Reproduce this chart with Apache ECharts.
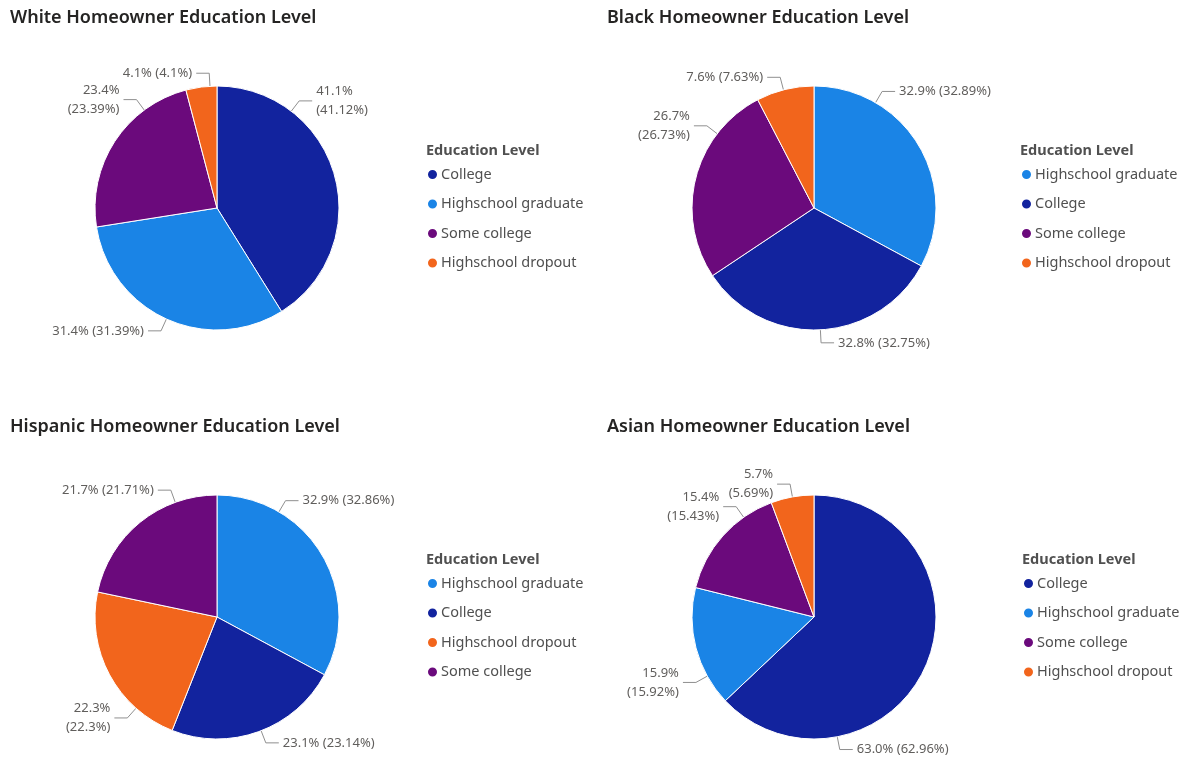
<!DOCTYPE html>
<html>
<head>
<meta charset="utf-8">
<script src="https://cdn.jsdelivr.net/npm/echarts@6/dist/echarts.min.js"></script>
<style>
  html, body { margin: 0; padding: 0; background: #ffffff; }
  #chart { width: 1186px; height: 761px; }
</style>
</head>
<body>
<div id="chart"></div>
<script>
// ---- Data ----
const chartTitles = [
  'White Homeowner Education Level',
  'Black Homeowner Education Level',
  'Hispanic Homeowner Education Level',
  'Asian Homeowner Education Level'
];
const legendTitle = 'Education Level';

const whiteCategories = ['College', 'Highschool graduate', 'Some college', 'Highschool dropout'];
const whiteValues = [41.12, 31.39, 23.39, 4.1];

const blackCategories = ['Highschool graduate', 'College', 'Some college', 'Highschool dropout'];
const blackValues = [32.89, 32.75, 26.73, 7.63];

const hispanicCategories = ['Highschool graduate', 'College', 'Highschool dropout', 'Some college'];
const hispanicValues = [32.86, 23.14, 22.3, 21.71];

const asianCategories = ['College', 'Highschool graduate', 'Some college', 'Highschool dropout'];
const asianValues = [62.96, 15.92, 15.43, 5.69];

// ---- Styles / layout ----
const colorMap = {
  'College': '#12239E',
  'Highschool graduate': '#1A84E6',
  'Some college': '#6B0A7C',
  'Highschool dropout': '#F2651C'
};
// which labels wrap onto two lines (layout only)
const wrapFlags = [
  [true, false, true, false],
  [false, false, true, false],
  [false, false, true, false],
  [false, true, true, true]
];
// where each leader line leaves the pie rim (degrees clockwise from 12 o'clock), layout only
const labelAngles = [
  [37.5, 204.5, 323.4, 356.7],
  [30.3, 177, 307.5, 345.5],
  [30.5, 158.8, 221.6, 340],
  [169, 241, 324.8, 349.8]
];
const pieCenters = [[217, 208], [814, 208], [217, 617], [814, 617]];
const titlePos = [[10, 9], [607, 9], [10, 418], [607, 418]];
const legendPos = [[426, 143], [1020, 143], [426, 552], [1022, 552]];
const pieRadius = 122;
const leadRadial = 13;
const leadFlat = 13;

const FONT = '"Noto Sans", "Open Sans", sans-serif';

function fmtLabel(v, wrap) {
  const a = v.toFixed(1) + '%';
  const b = '(' + String(parseFloat(v.toFixed(2))) + '%)';
  return wrap ? a + '\n' + b : a + ' ' + b;
}

function makeLabelLayout(i) {
  return function (params) {
    const k = params.dataIndex;
    const ang = labelAngles[i][k] * Math.PI / 180;
    const cx = pieCenters[i][0], cy = pieCenters[i][1];
    const s = Math.sin(ang), c = -Math.cos(ang);
    const p0 = [cx + pieRadius * s, cy + pieRadius * c];
    const p1 = [cx + (pieRadius + leadRadial) * s, cy + (pieRadius + leadRadial) * c];
    const right = s >= 0;
    const p2 = [p1[0] + (right ? leadFlat : -leadFlat), p1[1]];
    return {
      x: p2[0] + (right ? 4 : -4),
      y: p2[1],
      align: right ? 'left' : 'right',
      verticalAlign: 'middle',
      labelLinePoints: [p0, p1, p2]
    };
  };
}

const datasets = [
  [whiteCategories, whiteValues],
  [blackCategories, blackValues],
  [hispanicCategories, hispanicValues],
  [asianCategories, asianValues]
];

const titles = [];
const legends = [];
const series = [];

datasets.forEach(([cats, vals], i) => {
  titles.push({
    text: chartTitles[i],
    left: titlePos[i][0], top: titlePos[i][1],
    padding: 0,
    textStyle: { fontFamily: FONT, fontSize: 18, fontWeight: 600, color: '#252423' }
  });
  titles.push({
    text: legendTitle,
    left: legendPos[i][0], top: legendPos[i][1],
    padding: 0,
    textStyle: { fontFamily: FONT, fontSize: 14.5, fontWeight: 'bold', color: '#505050' }
  });
  legends.push({
    data: cats.slice(),
    orient: 'vertical',
    left: legendPos[i][0], top: legendPos[i][1] + 24,
    padding: 0,
    icon: 'circle',
    itemWidth: 11, itemHeight: 11,
    itemGap: 14.5,
    selectedMode: false,
    textStyle: { fontFamily: FONT, fontSize: 14.5, lineHeight: 14, color: '#505050', padding: [0, 0, 0, -2] }
  });
  series.push({
    type: 'pie',
    name: chartTitles[i],
    center: pieCenters[i],
    radius: pieRadius,
    startAngle: 90,
    clockwise: true,
    avoidLabelOverlap: false,
    itemStyle: { borderColor: '#ffffff', borderWidth: 1 },
    label: {
      show: true,
      position: 'outside',
      fontFamily: FONT,
      fontSize: 13,
      color: '#605E5C',
      lineHeight: 19,
      formatter: (p) => fmtLabel(p.value, wrapFlags[i][p.dataIndex])
    },
    labelLine: {
      show: true,
      length: 10,
      length2: 14,
      lineStyle: { color: '#8f8f8f', width: 1 }
    },
    labelLayout: makeLabelLayout(i),
    emphasis: { disabled: true },
    data: cats.map((c, k) => ({ name: c, value: vals[k], itemStyle: { color: colorMap[c] } }))
  });
});

const chart = echarts.init(document.getElementById('chart'), null, { renderer: 'canvas' });
chart.setOption({
  backgroundColor: '#ffffff',
  animation: false,
  title: titles,
  legend: legends,
  series: series
});
</script>
</body>
</html>
